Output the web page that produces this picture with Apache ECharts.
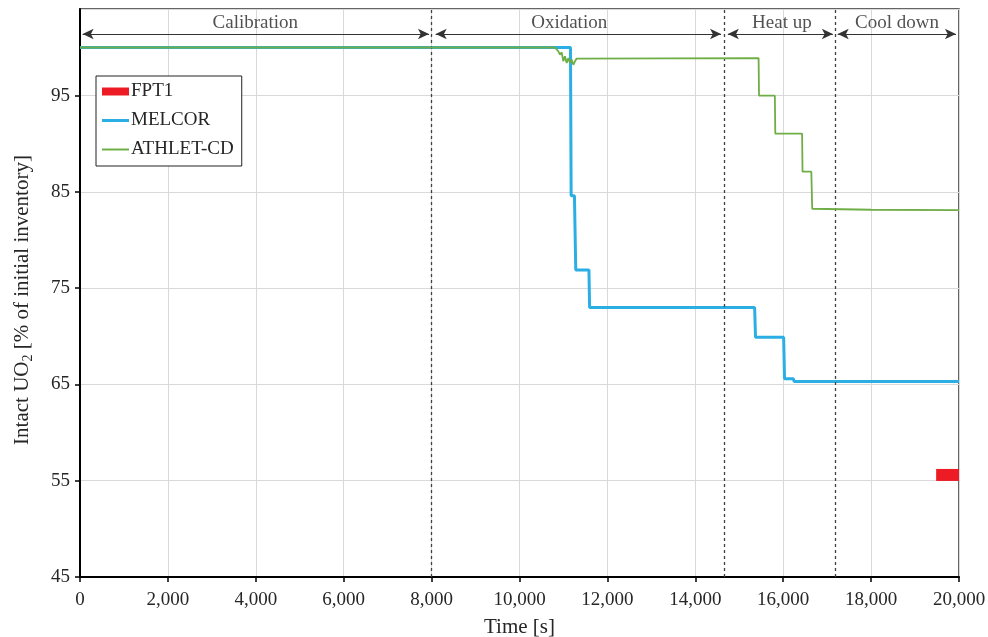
<!DOCTYPE html>
<html>
<head>
<meta charset="utf-8">
<script src="https://cdn.jsdelivr.net/npm/echarts@6/dist/echarts.min.js"></script>
<style>html,body{margin:0;padding:0;background:#fff}#c{width:988px;height:637px}</style>
</head>
<body>
<div id="c"></div>
<script>
const seriesNames = ['FPT1', 'MELCOR', 'ATHLET-CD'];
const fpt1Data = [[19480, 55.6], [20000, 55.6]];
const melcorData = [
  [0, 100], [11160, 100], [11175, 84.6], [11250, 84.6], [11280, 76.9], [11580, 76.9],
  [11595, 73.0], [15350, 73.0], [15370, 69.9], [16010, 69.9], [16030, 65.6],
  [16230, 65.6], [16250, 65.3], [20000, 65.3]
];
const athletData = [
  [0, 100], [10808, 100], [10884, 99.6], [10921, 99.26], [10960, 99.5], [10998, 98.57],
  [11035, 99.09], [11073, 98.4], [11111, 98.9], [11149, 98.4], [11187, 98.74],
  [11225, 98.2], [11263, 98.57], [11300, 98.85], [15440, 98.9], [15450, 95.0],
  [15810, 95.0], [15820, 91.05], [16430, 91.05], [16440, 87.1], [16640, 87.1],
  [16660, 83.25], [18000, 83.15], [20000, 83.1]
];
const phaseNames = ['Calibration', 'Oxidation', 'Heat up', 'Cool down'];
const phaseBounds = [8000, 14660, 17190];
const phaseArrows = [[60, 7940], [8093, 14586], [14740, 17130], [17240, 19930]];
const arrowLevel = 101.4;
const phaseLabelX = [3990, 11130, 15970, 18590];
const labelLevel = 102.5;
const xTicks = { min: 0, max: 20000, interval: 2000 };
const yTicks = { min: 45, max: 104, interval: 10 };

const FONT = '"Liberation Serif", "Times New Roman", serif';
const TXT = '#262626';

const chart = echarts.init(document.getElementById('c'), null, { renderer: 'canvas' });

const markLineData = [];
phaseBounds.forEach(v => markLineData.push({
  xAxis: v,
  lineStyle: { type: [3, 3], color: '#404040', width: 1.3 }
}));
phaseArrows.forEach(a => markLineData.push([
  { coord: [a[0], arrowLevel], symbol: 'arrow', symbolSize: [8, 11] },
  { coord: [a[1], arrowLevel], symbol: 'arrow', symbolSize: [8, 11] }
]));

const option = {
  animation: false,
  backgroundColor: '#fff',
  grid: { left: 80, right: 29, top: 9, bottom: 60, show: true, borderColor: '#333', borderWidth: 1.5,
    containLabel: false, outerBoundsMode: 'none' },
  xAxis: {
    type: 'value', min: xTicks.min, max: xTicks.max, interval: xTicks.interval,
    name: 'Time [s]', nameLocation: 'middle', nameGap: 40,
    nameTextStyle: { fontFamily: FONT, fontSize: 21, color: TXT },
    axisLine: { show: true, onZero: false, lineStyle: { color: '#000', width: 2 } },
    axisTick: { show: true, length: 5, lineStyle: { color: '#000', width: 1.5 } },
    axisLabel: { fontFamily: FONT, fontSize: 19, color: TXT, margin: 14,
      formatter: v => v.toLocaleString('en-US') },
    splitLine: { show: true, lineStyle: { color: '#d9d9d9', width: 1 } }
  },
  yAxis: {
    type: 'value', min: yTicks.min, max: yTicks.max, interval: yTicks.interval,
    axisLine: { show: true, onZero: false, lineStyle: { color: '#000', width: 2 } },
    axisTick: { show: true, length: 5, lineStyle: { color: '#000', width: 1.5 } },
    axisLabel: { fontFamily: FONT, fontSize: 19, color: TXT, margin: 10, showMaxLabel: false,
      formatter: v => ((v - yTicks.min) % yTicks.interval === 0 ? String(v) : '') },
    splitLine: { show: true, lineStyle: { color: '#d9d9d9', width: 1 } }
  },
  legend: {
    data: [
      { name: seriesNames[0], icon: 'rect' },
      { name: seriesNames[1], icon: 'path://M0,0H27V3H0Z' },
      { name: seriesNames[2], icon: 'path://M0,0H27V2H0Z' }
    ],
    orient: 'vertical', left: 96, top: 76,
    itemWidth: 27, itemHeight: 8, itemGap: 10,
    padding: [6, 8, 7, 6],
    borderColor: '#222', borderWidth: 1, backgroundColor: '#fff', borderRadius: 0,
    textStyle: { fontFamily: FONT, fontSize: 19, color: TXT, padding: [0, 0, 0, -3] },
    selectedMode: false
  },
  graphic: [{
    type: 'text', x: 22, y: 300, rotation: Math.PI / 2,
    style: {
      text: 'Intact UO{sub|2} [% of initial inventory]',
      fontFamily: FONT, fontSize: 21, fill: TXT,
      align: 'center', verticalAlign: 'middle',
      rich: { sub: { fontFamily: FONT, fontSize: 14, fill: TXT, padding: [12, 0, 0, 0] } }
    }
  }],
  series: [
    {
      name: seriesNames[0], type: 'line', data: fpt1Data, symbol: 'none', z: 3,
      color: '#ed1c24', lineStyle: { color: '#ed1c24', width: 12, cap: 'butt' }
    },
    {
      name: seriesNames[1], type: 'line', data: melcorData, symbol: 'none', z: 4,
      color: '#2aaee4', lineStyle: { color: '#2aaee4', width: 3 }
    },
    {
      name: seriesNames[2], type: 'line', data: athletData, symbol: 'none', z: 5,
      color: '#6fae46', lineStyle: { color: '#6fae46', width: 1.8 },
      markLine: {
        silent: true, animation: false,
        symbol: ['none', 'none'],
        label: { show: false },
        lineStyle: { color: '#333', width: 1, type: 'solid' },
        itemStyle: { color: '#000' },
        data: markLineData
      }
    },
    {
      name: 'phases', type: 'scatter', symbolSize: 0, silent: true,
      data: phaseNames.map((n, i) => ({ name: n, value: [phaseLabelX[i], labelLevel] })),
      label: { show: true, position: 'inside', formatter: p => p.name,
        fontFamily: FONT, fontSize: 19, color: TXT }
    }
  ]
};
chart.setOption(option);
</script>
</body>
</html>
